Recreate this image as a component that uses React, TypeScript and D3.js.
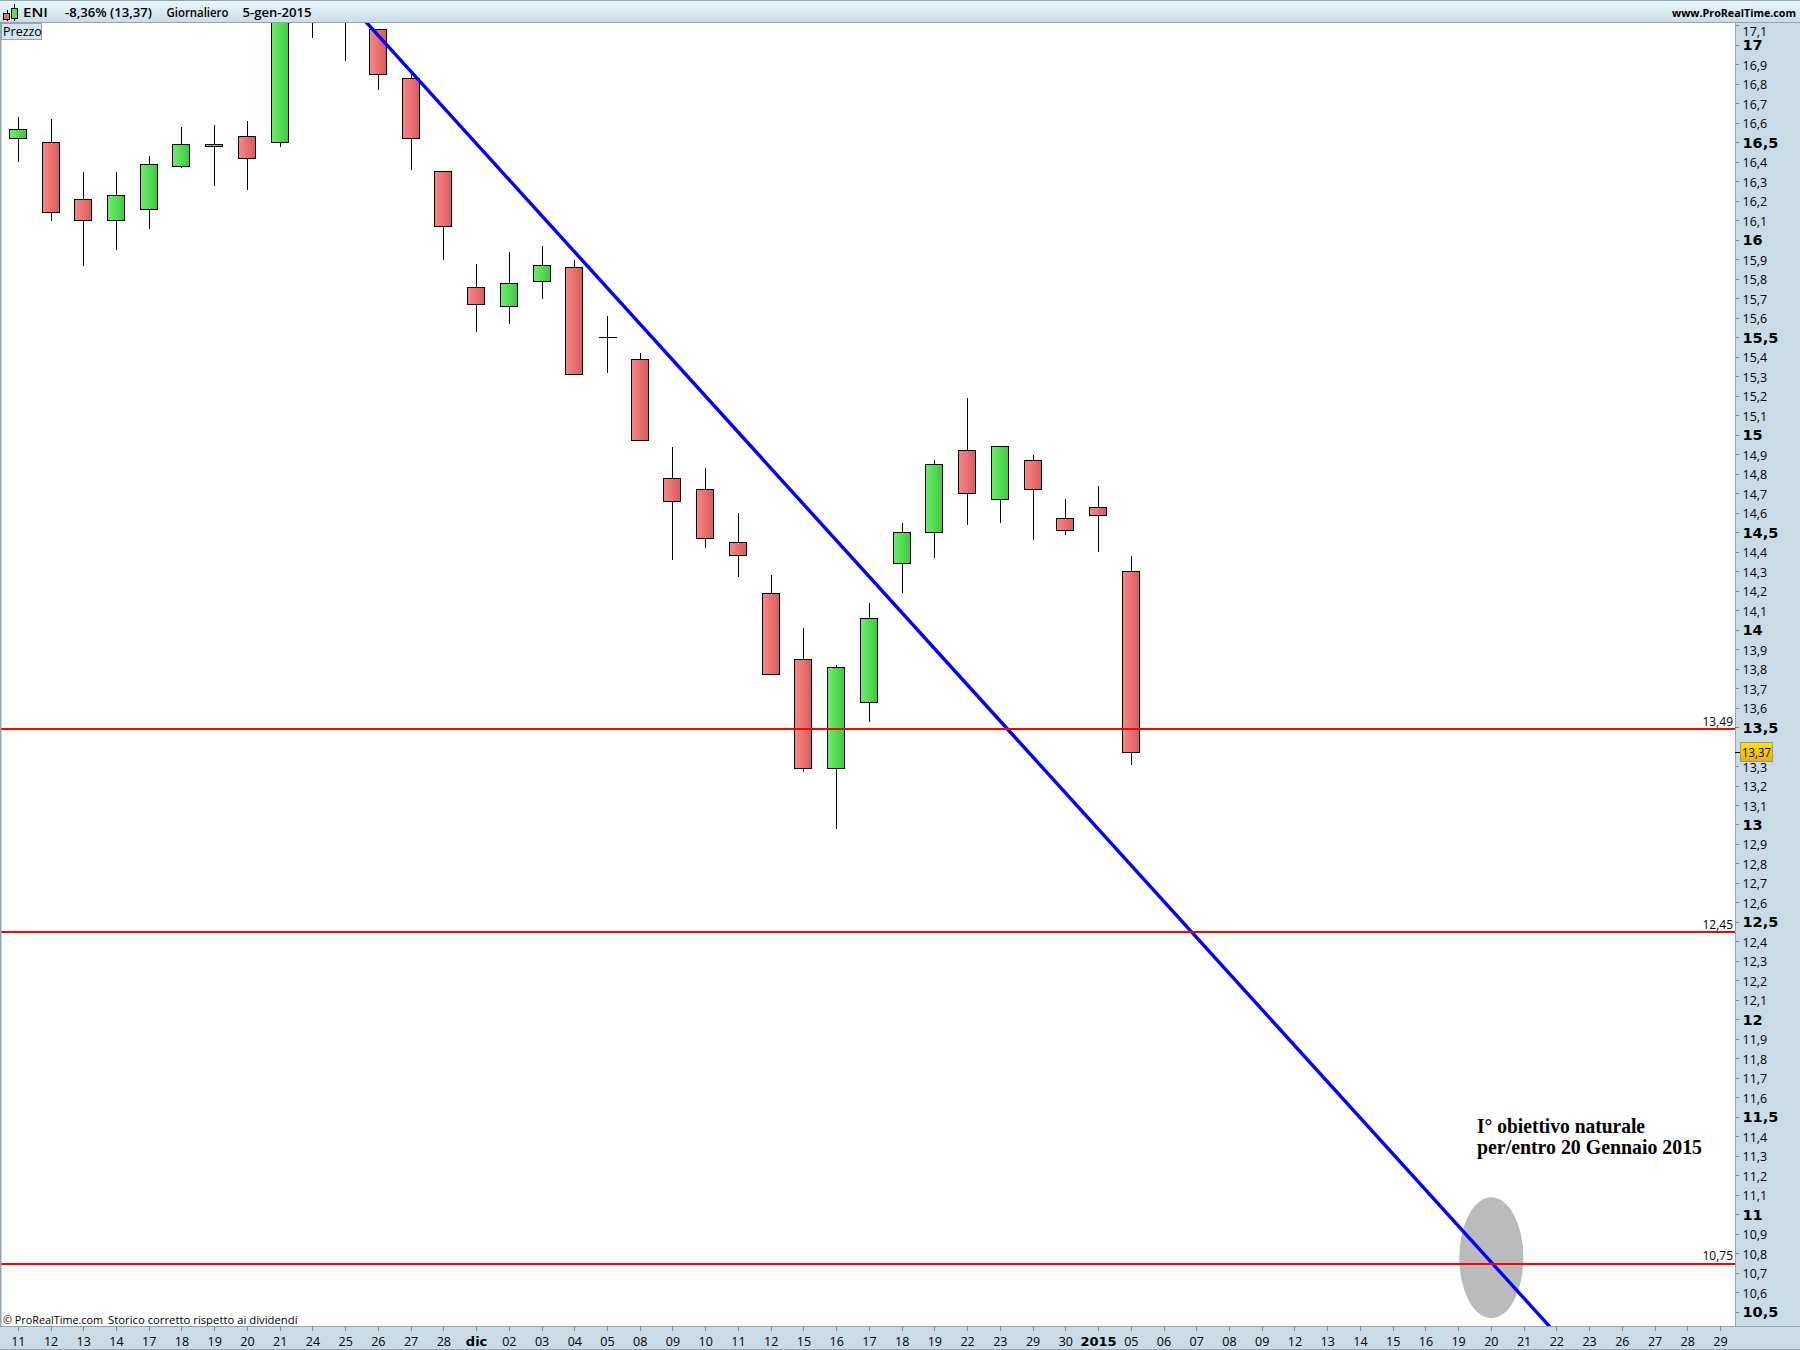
import * as d3 from "d3";

const dates = ["11","12","13","14","17","18","19","20","21","24","25","26","27","28","dic","02","03","04","05","08","09","10","11","12","15","16","17","18","19","22","23","29","30","2015","05","06","07","08","09","12","13","14","15","16","19","20","21","22","23","26","27","28","29"];
const boldDates = ["dic", "2015"];

const opens = [16.52,16.5,16.21,16.1,16.16,16.38,16.48,16.53,16.5,17.6,17.4,17.08,16.83,16.35,15.76,15.66,15.79,15.86,15.5,15.39,14.78,14.72,14.45,14.19,13.85,13.29,13.63,14.34,14.5,14.92,14.67,14.87,14.57,14.63,14.3];
const highs = [16.63,16.62,16.35,16.35,16.43,16.58,16.59,16.61,17.65,17.7,17.5,17.08,16.86,16.35,15.88,15.94,15.97,15.9,15.61,15.42,14.94,14.83,14.6,14.28,14.01,13.82,14.14,14.55,14.87,15.19,14.94,14.9,14.67,14.74,14.38];
const lows = [16.4,16.1,15.87,15.95,16.06,16.37,16.28,16.26,16.48,17.04,16.92,16.77,16.36,15.9,15.53,15.57,15.7,15.31,15.32,14.97,14.36,14.42,14.27,13.77,13.27,12.98,13.53,14.19,14.37,14.54,14.55,14.46,14.49,14.4,13.31];
const closes = [16.57,16.14,16.1,16.23,16.39,16.49,16.49,16.42,17.55,17.3,17.25,16.85,16.52,16.07,15.67,15.78,15.87,15.31,15.5,14.97,14.66,14.47,14.38,13.77,13.29,13.81,14.06,14.5,14.85,14.7,14.94,14.72,14.51,14.59,13.37];

const levels = [13.49, 12.45, 10.75];
const priceTicks = d3.range(105, 172).map((d) => d / 10);
const lastPrice = 13.37;

const trendIdx = [10.62, 46.79];
const trendPrice = [17.12, 10.425];

const W = 1800;
const H = 1350;
const PLOT_R = 1735;
const PLOT_T = 22;
const PLOT_B = 1326;

const x = d3.scaleLinear().domain([0, dates.length - 1]).range([18.3, 1720.5]);
const y = d3.scaleLinear().domain([17, 10.5]).range([45.3, 1312.3]);

const FONT = "'Open Sans', sans-serif";
const BOLD = "'DejaVu Sans', sans-serif";
const px = (v: number) => Math.floor(v) + 0.5;
const fmt = (v: number) => String(v).replace(".", ",");

const trendLine = d3.line<number>()
  .x((d) => x(d))
  .y((_, i) => y(trendPrice[i]));

const Candle = ({ i }: { i: number }) => {
  const up = closes[i] >= opens[i];
  const cx = px(x(i));
  const top = px(y(Math.max(opens[i], closes[i])));
  const bot = px(y(Math.min(opens[i], closes[i])));
  return (
    <g shapeRendering="crispEdges">
      <line x1={cx} x2={cx} y1={y(highs[i])} y2={y(lows[i])} stroke="#000" />
      {top === bot ? (
        <line x1={cx - 9} x2={cx + 9} y1={top} y2={top} stroke="#000" />
      ) : (
        <rect x={cx - 9} y={top} width={17} height={bot - top} stroke="#000" fill={up ? "url(#green)" : "url(#red)"} />
      )}
    </g>
  );
};

export default function App() {
  return (
    <svg width={W} height={H} style={{ position: "absolute", left: 0, top: 0, display: "block" }} fontFamily={FONT}>
      <defs>
        <linearGradient id="red"><stop offset="0" stopColor="#fb8686" /><stop offset="1" stopColor="#d65c5c" /></linearGradient>
        <linearGradient id="green"><stop offset="0" stopColor="#6cf06c" /><stop offset="1" stopColor="#3fc63f" /></linearGradient>
        <linearGradient id="head" x2="0" y2="1"><stop offset="0" stopColor="#eaf8fc" /><stop offset="1" stopColor="#c9dde6" /></linearGradient>
        <linearGradient id="gold" x2="0" y2="1"><stop offset="0" stopColor="#ffe400" /><stop offset="1" stopColor="#f2ae00" /></linearGradient>
        <clipPath id="plot"><rect x={0} y={PLOT_T} width={PLOT_R} height={PLOT_B - PLOT_T} /></clipPath>
      </defs>
      <rect width={W} height={H} fill="#fff" />

      <g clipPath="url(#plot)">
        <ellipse cx={x(45)} cy={y(10.78)} rx={x(45.98) - x(45)} ry={y(10.47) - y(10.78)} fill="#bbb" />
        {opens.map((_, i) => <Candle key={i} i={i} />)}
        <path d={trendLine(trendIdx) ?? ""} stroke="#0000ff" strokeWidth={3.4} fill="none" />
        {levels.map((v) => (
          <line key={v} x1={0} x2={PLOT_R} y1={Math.round(y(v))} y2={Math.round(y(v))} stroke="#ff0000" strokeWidth={2} />
        ))}
      </g>
      {levels.map((v) => (
        <text key={v} x={1733} y={y(v) - 3.5} textAnchor="end" fontSize={12} fill="#000">{fmt(v)}</text>
      ))}

      <g fontFamily="'Liberation Serif', serif" fontWeight="bold" fontSize={20} fill="#000">
        <text x={1477} y={1133} textLength={168} lengthAdjust="spacingAndGlyphs">I° obiettivo naturale</text>
        <text x={1477} y={1154} textLength={225} lengthAdjust="spacingAndGlyphs">per/entro 20 Gennaio 2015</text>
      </g>

      {/* frame and header */}
      <rect x={0} y={0} width={1.5} height={H} fill="#93a5b1" />
      <rect x={0} y={0} width={W} height={22} fill="url(#head)" />
      <line x1={0} x2={W} y1={0.5} y2={0.5} stroke="#93a5b1" />
      <line x1={0} x2={W} y1={22.5} y2={22.5} stroke="#93a5b1" />
      <g shapeRendering="crispEdges" stroke="#000">
        <line x1={7} x2={7} y1={10} y2={21} />
        <rect x={3.5} y={13.5} width={6} height={6} fill="#f06a6a" />
        <line x1={14} x2={14} y1={4} y2={21} />
        <rect x={11.5} y={8.5} width={6} height={10} fill="#55dd55" />
      </g>
      <g fontSize={13} fontWeight={600} fill="#000">
        <text x={23} y={17} textLength={25} lengthAdjust="spacingAndGlyphs">ENI</text>
        <text x={65} y={17} textLength={87} lengthAdjust="spacingAndGlyphs">-8,36% (13,37)</text>
        <text x={166.5} y={17} textLength={62} lengthAdjust="spacingAndGlyphs">Giornaliero</text>
        <text x={242.5} y={17} textLength={69} lengthAdjust="spacingAndGlyphs">5-gen-2015</text>
        <text x={1672} y={16.5} fontSize={11} fontWeight="bold" textLength={124} lengthAdjust="spacingAndGlyphs">www.ProRealTime.com</text>
      </g>
      <rect x={1.5} y={23.5} width={40} height={16} fill="#d3e3ea" stroke="#93a5b1" />
      <text x={3} y={36} fontSize={12.5} fill="#000">Prezzo</text>

      <g fontSize={11.5} fill="#000">
        <text x={3} y={1324} textLength={100} lengthAdjust="spacingAndGlyphs">© ProRealTime.com</text>
        <text x={108} y={1324} textLength={189.5} lengthAdjust="spacingAndGlyphs">Storico corretto rispetto ai dividendi</text>
      </g>

      {/* price axis */}
      <rect x={PLOT_R} y={23} width={W - PLOT_R} height={H - 23} fill="#c9dbe5" />
      <line x1={PLOT_R + 0.5} x2={PLOT_R + 0.5} y1={23} y2={PLOT_B} stroke="#93a5b1" />
      {priceTicks.filter((v) => v !== 13.4).map((v) => {
        const major = Number.isInteger(v * 2);
        return (
          <g key={v}>
            <line x1={PLOT_R} x2={PLOT_R + 4} y1={px(y(v))} y2={px(y(v))} stroke="#7d8d98" />
            <text
              x={1742.5}
              y={Math.max(y(v), 31) + 5}
              fontSize={major ? 14.5 : 12.5}
              fontFamily={major ? BOLD : FONT}
              fontWeight={major ? "bold" : "normal"}
              fill="#000"
            >
              {fmt(v)}
            </text>
          </g>
        );
      })}
      <line x1={PLOT_R} x2={PLOT_R + 5} y1={px(y(lastPrice))} y2={px(y(lastPrice))} stroke="#000" />
      <rect x={1740.5} y={742.5} width={32} height={19} fill="url(#gold)" stroke="#8c9aa3" />
      <text x={1742} y={757} fontSize={12.5} fill="#000" textLength={29} lengthAdjust="spacingAndGlyphs">{fmt(lastPrice)}</text>

      {/* date axis */}
      <rect x={0} y={PLOT_B} width={W} height={H - PLOT_B} fill="#c9dbe5" />
      <line x1={0} x2={W} y1={PLOT_B + 0.5} y2={PLOT_B + 0.5} stroke="#93a5b1" />
      <line x1={0} x2={W} y1={H - 0.5} y2={H - 0.5} stroke="#93a5b1" />
      {dates.map((d, i) => {
        const bold = boldDates.includes(d);
        return (
          <g key={i}>
            <line x1={px(x(i))} x2={px(x(i))} y1={PLOT_B} y2={PLOT_B + 5} stroke="#7d8d98" />
            <text
              x={x(i)}
              y={1346}
              textAnchor="middle"
              fontSize={bold ? 13 : 12.5}
              fontFamily={bold ? BOLD : FONT}
              fontWeight={bold ? "bold" : "normal"}
              fill="#000"
            >
              {d}
            </text>
          </g>
        );
      })}
    </svg>
  );
}
